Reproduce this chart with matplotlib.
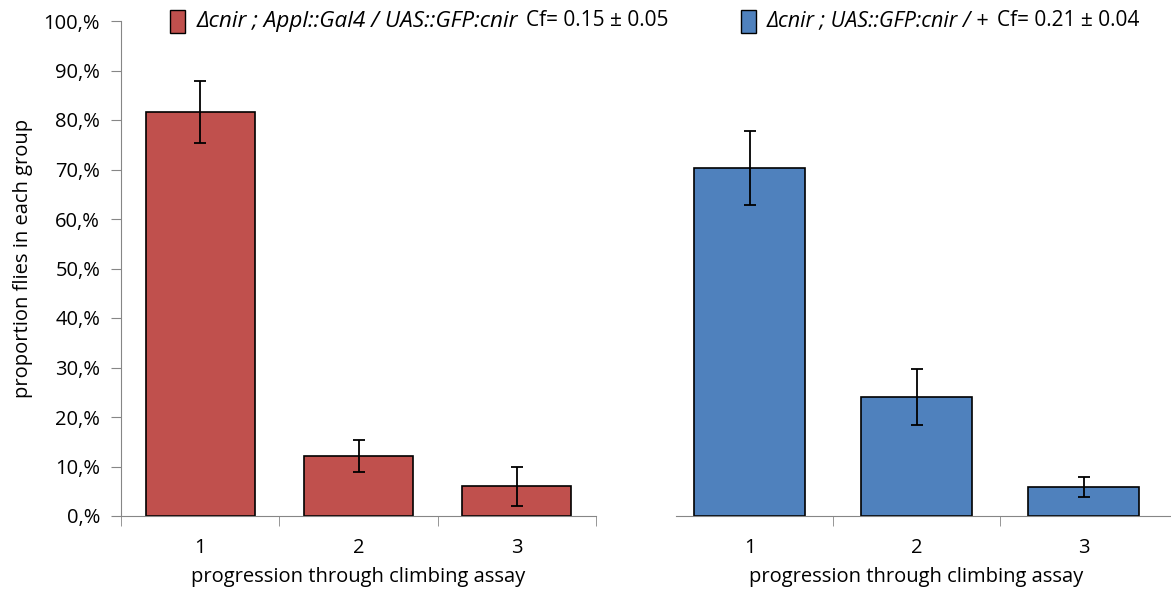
import matplotlib
matplotlib.use("Agg")
import matplotlib.pyplot as plt
from matplotlib.patches import Rectangle

categories = ["1", "2", "3"]
red_values = [0.816, 0.121, 0.060]
red_err = [0.063, 0.032, 0.040]
blue_values = [0.703, 0.240, 0.059]
blue_err = [0.075, 0.056, 0.020]
ytick_vals = [0.0, 0.1, 0.2, 0.3, 0.4, 0.5, 0.6, 0.7, 0.8, 0.9, 1.0]
ytick_labels = ["0,%", "10,%", "20,%", "30,%", "40,%", "50,%", "60,%", "70,%", "80,%", "90,%", "100,%"]
red_label = "Δcnir ; Appl::Gal4 / UAS::GFP:cnir"
red_cf = "Cf= 0.15 ± 0.05"
blue_label = "Δcnir ; UAS::GFP:cnir / +"
blue_cf = "Cf= 0.21 ± 0.04"
xlabel = "progression through climbing assay"
ylabel = "proportion flies in each group"

RED = "#C0504D"
BLUE = "#4F81BD"
GRAY = "#868686"
FONT = ["Open Sans", "DejaVu Sans"]
plt.rcParams["font.family"] = FONT

W, H = 1171, 594
fig = plt.figure(figsize=(W / 100, H / 100), dpi=100)

def px(x0, y0, x1, y1):
    return [x0 / W, 1 - y1 / H, (x1 - x0) / W, (y1 - y0) / H]

x = [1, 2, 3]
TICK_FS = 14.5
LABEL_FS = 14.5

def style_axes(ax, show_y):
    for s in ["top", "right"]:
        ax.spines[s].set_visible(False)
    ax.spines["bottom"].set_color(GRAY)
    ax.spines["left"].set_color(GRAY)
    ax.spines["left"].set_visible(show_y)
    ax.set_ylim(0, 1.0)
    ax.set_xticks(x)
    ax.set_xticklabels(categories, fontsize=TICK_FS)
    ax.tick_params(axis="x", which="major", length=0, pad=16, colors="#000000")
    ax.tick_params(axis="x", which="minor", length=7, color=GRAY, direction="out")
    if show_y:
        ax.set_yticks(ytick_vals)
        ax.set_yticklabels(ytick_labels, fontsize=TICK_FS)
        ax.tick_params(axis="y", length=7, color=GRAY, direction="out", pad=8)
    else:
        ax.set_yticks([])
    ax.set_xlabel(xlabel, fontsize=LABEL_FS, labelpad=6)

# left axes
ax1 = fig.add_axes(px(121, 21, 596, 516))
ax1.set_xlim(0.5, 3.5)
ax1.bar(x, red_values, width=0.69, color=RED, edgecolor="black", linewidth=1.2, zorder=2)
ax1.errorbar(x, red_values, yerr=red_err, fmt="none", ecolor="black", elinewidth=1.3,
             capsize=4, capthick=1.3, zorder=3)
ax1.set_xticks([0.5, 1.5, 2.5, 3.5], minor=True)
style_axes(ax1, True)
ax1.set_ylabel(ylabel, fontsize=LABEL_FS)
ax1.yaxis.set_label_coords(-(121 - 33) / 475, 0.52)

# right axes
ax2 = fig.add_axes(px(666, 21, 1167, 516))
ax2.set_xlim(0.5, 3.5)
ax2.bar(x, blue_values, width=0.67, color=BLUE, edgecolor="black", linewidth=1.2, zorder=2)
ax2.errorbar(x, blue_values, yerr=blue_err, fmt="none", ecolor="black", elinewidth=1.3,
             capsize=4, capthick=1.3, zorder=3)
ax2.set_xticks([1.5, 2.5], minor=True)
style_axes(ax2, False)
ax2.spines["bottom"].set_bounds(0.5 + 10 / 167, 3.53)
ax2.spines["bottom"].set_clip_on(False)

# legend (manual)
for (x0, col, lab, cf, cfx, labx, lfs) in [(170, RED, red_label, red_cf, 526, 197, 16.2),
                                             (741, BLUE, blue_label, blue_cf, 997, 767, 15.5)]:
    fig.patches.append(Rectangle((x0 / W, 1 - 33 / H), 15 / W, 23 / H, transform=fig.transFigure,
                                 facecolor=col, edgecolor="black", linewidth=1.0))
    fig.text(labx / W, 1 - 21 / H, lab, fontsize=lfs, style="italic", va="center", ha="left")
    fig.text(cfx / W, 1 - 21 / H, cf, fontsize=15, va="center", ha="left")

fig.savefig("out.png", dpi=100)
